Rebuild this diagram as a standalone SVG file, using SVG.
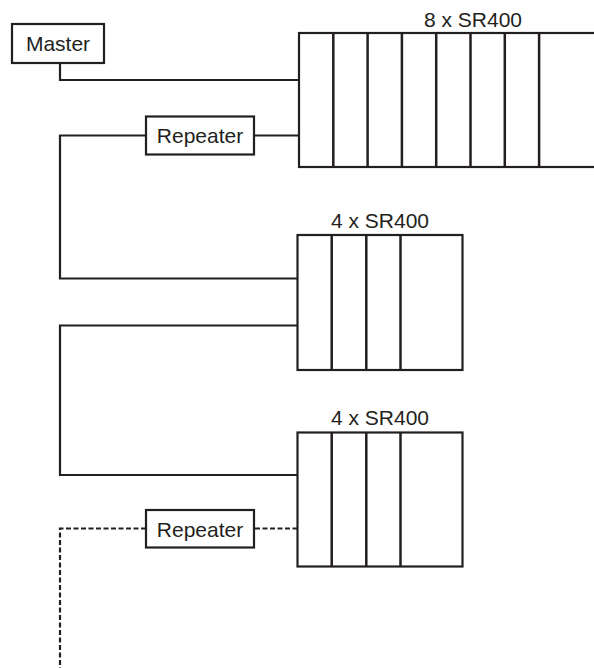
<svg xmlns="http://www.w3.org/2000/svg" width="594" height="668" viewBox="0 0 594 668">
<style>
.box{fill:#fff;stroke:#231f20;stroke-width:2.2}
.ln{fill:none;stroke:#231f20;stroke-width:2.2}
.dv{fill:none;stroke:#231f20;stroke-width:2.5}
.dash{fill:none;stroke:#231f20;stroke-width:2.2;stroke-dasharray:5 2.5}
.t{font-family:"Liberation Sans",Arial,sans-serif;font-size:21px;fill:#231f20;text-anchor:middle}
</style>
<rect width="594" height="668" fill="#fff"/>
<g id="connectors">
<polyline class="ln" points="60,63 60,80 299,80"/>
<polyline class="ln" points="254,135.5 299,135.5"/>
<polyline class="ln" points="146,135.5 60,135.5 60,278.5 297.5,278.5"/>
<polyline class="ln" points="297.5,325.5 60,325.5 60,475 297.5,475"/>
<polyline class="dash" points="297.5,528.5 254,528.5"/>
<polyline class="dash" points="146,528.5 60,528.5 60,668"/>
</g>
<g id="master">
<rect class="box" x="12" y="24" width="92" height="39"/>
<text class="t" x="58" y="51">Master</text>
</g>
<g id="repeater1">
<rect class="box" x="146" y="116.5" width="108" height="38"/>
<text class="t" x="200" y="143">Repeater</text>
</g>
<g id="rack8">
<text class="t" x="473" y="27">8 x SR400</text>
<rect class="box" x="299" y="33" width="320" height="134"/>
<path class="dv" d="M333.3,33V167M367.6,33V167M401.9,33V167M436.2,33V167M470.5,33V167M504.8,33V167M539.1,33V167"/>
</g>
<g id="rack4a">
<text class="t" x="380" y="227.5">4 x SR400</text>
<rect class="box" x="297.5" y="235" width="165" height="135"/>
<path class="dv" d="M331.7,235V370M366.3,235V370M400.5,235V370"/>
</g>
<g id="rack4b">
<text class="t" x="380" y="425">4 x SR400</text>
<rect class="box" x="297.5" y="432.5" width="165" height="134"/>
<path class="dv" d="M331.7,432.5V566.5M366.3,432.5V566.5M400.5,432.5V566.5"/>
</g>
<g id="repeater2">
<rect class="box" x="146" y="510" width="108" height="37.5"/>
<text class="t" x="200" y="536.5">Repeater</text>
</g>
</svg>
